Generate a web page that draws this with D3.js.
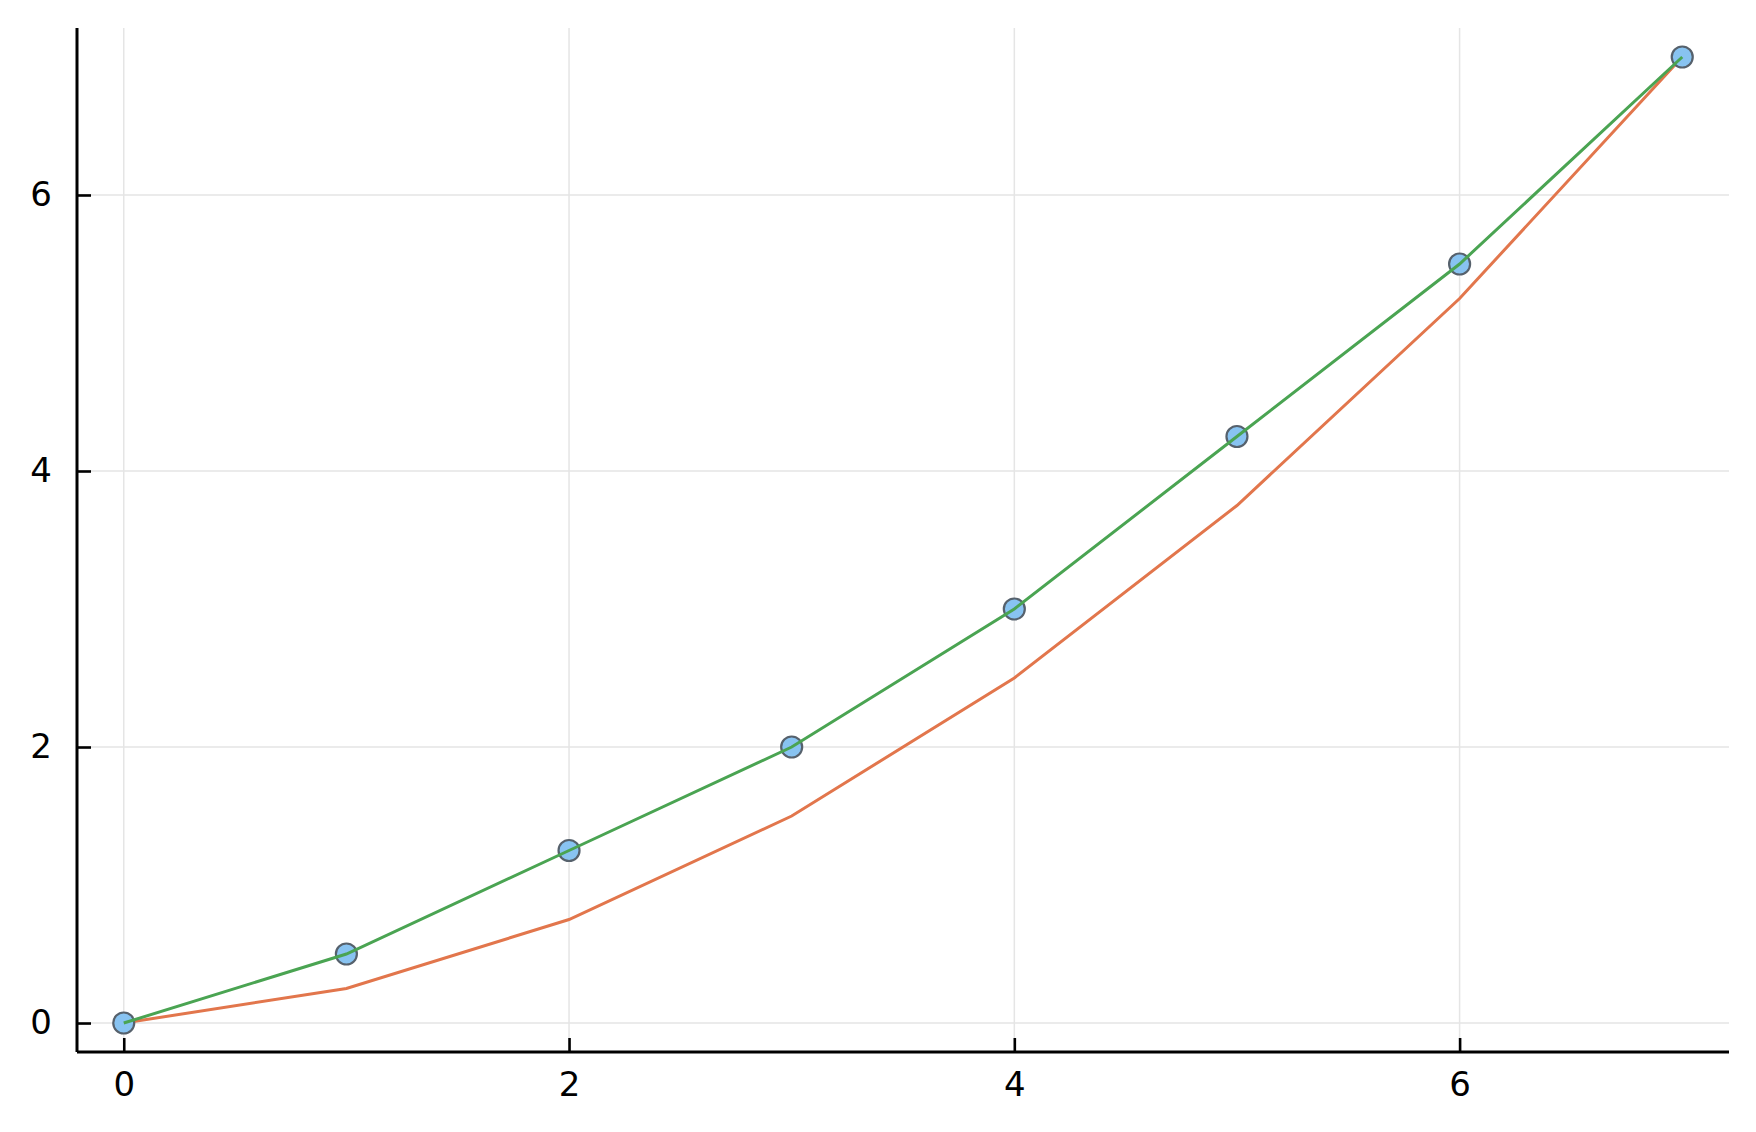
<!DOCTYPE html>
<html><head><meta charset="utf-8">
<script src="https://cdn.jsdelivr.net/npm/d3@7"></script>
<style>html,body{margin:0;padding:0;background:#fff;}</style>
</head><body>
<svg id="chart" width="1756" height="1132"></svg>
<script>
const xValues = [0, 1, 2, 3, 4, 5, 6, 7];
const pointValues = [0, 0.5, 1.25, 2, 3, 4.25, 5.5, 7];
const greenValues = [0, 0.5, 1.25, 2, 3, 4.25, 5.5, 7];
const orangeValues = [0, 0.25, 0.75, 1.5, 2.5, 3.75, 5.25, 7];
const xTicks = [0, 2, 4, 6];
const yTicks = [0, 2, 4, 6];

const svg = d3.select("#chart");
const L = 77, R = 1729, T = 28, B = 1052;
const x = d3.scaleLinear().domain([-0.21, 7.21]).range([L, R]);
const y = d3.scaleLinear().domain([-0.21, 7.21]).range([B, T]);

const grid = svg.append("g").attr("stroke", "#e5e5e5").attr("stroke-width", 1.5);
xTicks.forEach(t => grid.append("line").attr("x1", x(t)).attr("x2", x(t)).attr("y1", T).attr("y2", B));
yTicks.forEach(t => grid.append("line").attr("y1", y(t)).attr("y2", y(t)).attr("x1", L).attr("x2", R));

const line = d3.line().x((d, i) => x(xValues[i])).y(d => y(d));
svg.append("path").datum(orangeValues).attr("d", line).attr("fill", "none")
  .attr("stroke", "#e2764c").attr("stroke-width", 3);

svg.append("g").selectAll("circle").data(pointValues).join("circle")
  .attr("cx", (d, i) => x(xValues[i])).attr("cy", d => y(d)).attr("r", 10.5)
  .attr("fill", "#88c3f1").attr("stroke", "#56616c").attr("stroke-width", 2.2);
svg.append("path").datum(greenValues).attr("d", line).attr("fill", "none")
  .attr("stroke", "#4aa452").attr("stroke-width", 3);

const fontFamily = "DejaVu Sans, sans-serif";
const xAxis = d3.axisBottom(x).tickValues(xTicks).tickSize(-14).tickPadding(20).tickFormat(d3.format("d"));
const gx = svg.append("g").attr("transform", `translate(0,${B})`).call(xAxis);
const yAxis = d3.axisLeft(y).tickValues(yTicks).tickSize(-14).tickPadding(25).tickFormat(d3.format("d"));
const gy = svg.append("g").attr("transform", `translate(${L},0)`).call(yAxis);
[gx, gy].forEach(g => {
  g.select(".domain").remove();
  g.selectAll(".tick line").attr("stroke", "#000").attr("stroke-width", 2.6);
  g.selectAll(".tick text").attr("fill", "#000").style("font-family", fontFamily).style("font-size", "34px");
});
gx.selectAll(".tick text").attr("dy", "0.71em");
svg.append("line").attr("x1", L).attr("x2", R).attr("y1", B).attr("y2", B).attr("stroke", "#000").attr("stroke-width", 3);
svg.append("line").attr("x1", L).attr("x2", L).attr("y1", T).attr("y2", B).attr("stroke", "#000").attr("stroke-width", 3);
</script>
</body></html>
